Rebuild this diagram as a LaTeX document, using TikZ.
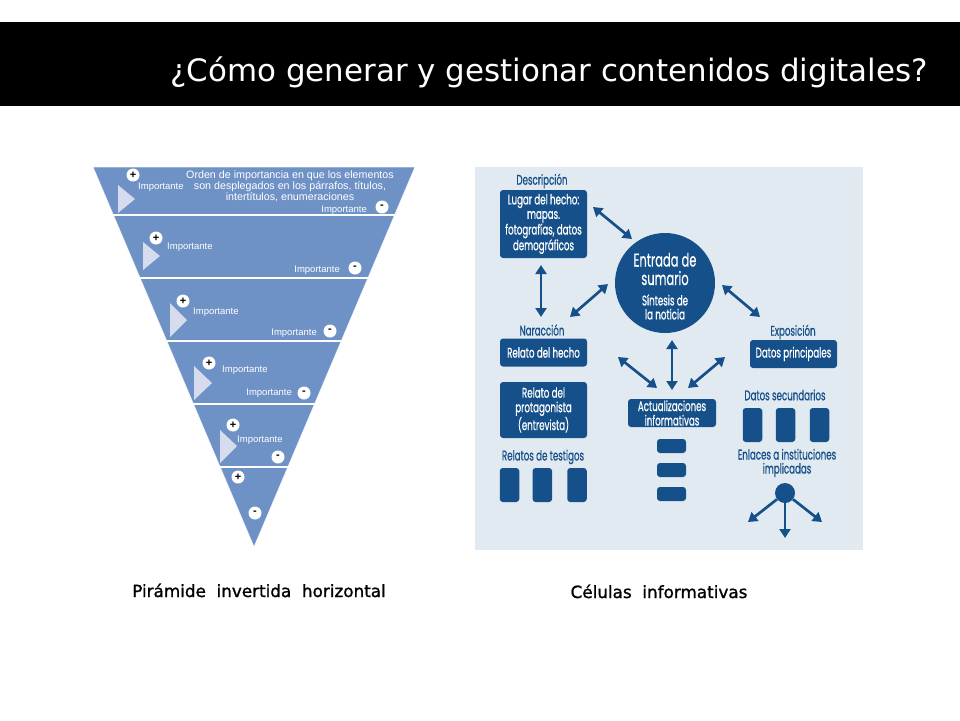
\documentclass[tikz,border=0pt]{standalone}
\usepackage{fontspec}
\setmainfont{Liberation Sans}
\newfontfamily\titlefont{DejaVu Sans}
\newfontfamily\capfont[FakeBold=1.2]{DejaVu Sans}
\newfontfamily\condfont[FakeStretch=0.62,FakeBold=0.6]{Poppins}
\usetikzlibrary{arrows.meta,calc}
\definecolor{pyr}{RGB}{111,146,198}
\definecolor{pyrlight}{RGB}{214,220,238}
\definecolor{dkblue}{RGB}{22,80,138}
\definecolor{panel}{RGB}{226,234,241}
\tikzset{
 pm/.style={circle, fill=white, inner sep=0pt, minimum size=13pt, font=\fontsize{11}{11}\selectfont\bfseries, text=black},
 imp/.style={text=white, font=\fontsize{9.5}{10}\selectfont, inner sep=0pt},
 cbox/.style={fill=dkblue, rounded corners=3pt, text=white, font=\condfont\fontsize{14}{14.5}\selectfont, align=center, inner sep=0pt},
 cbar/.style={fill=dkblue, rounded corners=3pt, inner sep=0pt},
 clab/.style={text=dkblue, font=\condfont\fontsize{14}{14}\selectfont, align=center, inner sep=0pt},
 dbl/.style={draw=dkblue, line width=2.7pt, {Triangle[length=9pt,width=11pt]}-{Triangle[length=9pt,width=11pt]}},
 sgl/.style={draw=dkblue, line width=2.7pt, -{Triangle[length=9pt,width=11pt]}},
 tri/.style={fill=pyrlight},
 sepline/.style={draw=white, line width=1.8pt},
 captext/.style={inner sep=0pt, anchor=base, font=\capfont\fontsize{16.8}{18}\selectfont},
}
\begin{document}
\begin{tikzpicture}[x=1pt,y=-1pt]
\useasboundingbox (0,0) rectangle (960,720);
\fill[white] (0,0) rectangle (960,720);
% title bar
\fill[black] (0,22) rectangle (960,106);
\node[anchor=base east, text=white, inner sep=0pt, font=\titlefont\fontsize{30.9}{36}\selectfont] (title) at (928,81) {¿Cómo generar y gestionar contenidos digitales?};

% ---------------- pyramid ----------------
\coordinate (TL) at (93,167);
\coordinate (TR) at (415,167);
\coordinate (AP) at (254,547);
\fill[pyr] (TL) -- (TR) -- (AP) -- cycle;
\draw[white, line width=0.8pt, opacity=0.8] (TL) -- (TR) -- (AP) -- cycle;
\foreach \t in {0.1263,0.2921,0.4579,0.6237,0.7895}{
  \draw[sepline] ($(TL)!\t!(AP)$) -- ($(TR)!\t!(AP)$);
}
% band triangles
\fill[tri] (118,185) -- (135,199) -- (118,213) -- cycle;
\fill[tri] (143,242) -- (160,256) -- (143,270) -- cycle;
\fill[tri] (170,303) -- (187,320) -- (170,337) -- cycle;
\fill[tri] (194,366) -- (212,383) -- (194,400) -- cycle;
\fill[tri] (220,430) -- (237,446) -- (220,463) -- cycle;
% band 1
\node[pm] (p1) at (133,175) {+};
\node[imp, anchor=west] (i1a) at (138,187) {Importante};
\node[imp, align=center, font=\fontsize{10.7}{11}\selectfont] (main) at (290,186) {Orden de importancia en que los elementos\\son desplegados en los párrafos, títulos,\\intertítulos, enumeraciones};
\node[imp, anchor=east] (i1b) at (367,210) {Importante};
\node[pm] (m1) at (382,207) {-};
% band 2
\node[pm] (p2) at (156,238) {+};
\node[imp, anchor=west] (i2a) at (167,247) {Importante};
\node[imp, anchor=east] (i2b) at (340,270) {Importante};
\node[pm] (m2) at (355,268) {-};
% band 3
\node[pm] (p3) at (183,301) {+};
\node[imp, anchor=west] (i3a) at (193,312) {Importante};
\node[imp, anchor=east] (i3b) at (317,333) {Importante};
\node[pm] (m3) at (330,331) {-};
% band 4
\node[pm] (p4) at (209,363) {+};
\node[imp, anchor=west] (i4a) at (222,370) {Importante};
\node[imp, anchor=east] (i4b) at (292,393) {Importante};
\node[pm] (m4) at (304,393) {-};
% band 5
\node[pm] (p5) at (233,425) {+};
\node[imp, anchor=west] (i5a) at (237,440) {Importante};
\node[pm] (m5) at (278,457) {-};
% band 6
\node[pm] (p6) at (238,477) {+};
\node[pm] (m6) at (255,513) {-};

% ---------------- cells ----------------
\fill[panel] (475,167) rectangle (863,550);
\node[clab] (ldesc) at (542,181) {Descripción};
\node[cbox, minimum width=87pt, minimum height=68pt] (lugar) at (543.5,224) {Lugar del hecho:\\mapas.\\fotografías, datos\\demográficos};
\node[clab] (lnar) at (542,330) {Naracción};
\node[cbox, minimum width=87pt, minimum height=28pt] (relh) at (543.5,352.5) {Relato del hecho};
\node[cbox, minimum width=87pt, minimum height=56pt] (prot) at (543.5,410) {Relato del\\protagonista\\(entrevista)};
\node[clab] (ltest) at (543,457) {Relatos de testigos};
\node[cbar, minimum width=19.5pt, minimum height=34pt] (t1) at (509.5,485) {};
\node[cbar, minimum width=19.5pt, minimum height=34pt] (t2) at (542.3,485) {};
\node[cbar, minimum width=19.5pt, minimum height=34pt] (t3) at (577,485) {};

\node[circle, fill=dkblue, minimum size=100pt, inner sep=0pt] (sum) at (665,283) {};
\node[text=white, align=center, inner sep=0pt, font=\condfont\fontsize{18.5}{18.5}\selectfont] (sumt1) at (665,269) {Entrada de\\sumario};
\node[text=white, align=center, inner sep=0pt, font=\condfont\fontsize{14}{14}\selectfont] (sumt2) at (665,307) {Síntesis de\\la noticia};

\node[cbox, minimum width=88pt, minimum height=28pt] (act) at (672,413) {Actualizaciones\\informativas};
\node[cbar, minimum width=29pt, minimum height=14pt] (b1) at (671.5,446) {};
\node[cbar, minimum width=29pt, minimum height=14pt] (b2) at (671.5,470) {};
\node[cbar, minimum width=29pt, minimum height=14pt] (b3) at (671.5,494) {};

\node[clab] (lexp) at (793,332) {Exposición};
\node[cbox, minimum width=87pt, minimum height=28pt] (dprin) at (793.5,354) {Datos principales};
\node[clab] (lsec) at (785,395) {Datos secundarios};
\node[cbar, minimum width=19.5pt, minimum height=34pt] (s1) at (752.5,425) {};
\node[cbar, minimum width=19.5pt, minimum height=34pt] (s2) at (785.5,425) {};
\node[cbar, minimum width=19.5pt, minimum height=34pt] (s3) at (819.5,425) {};
\node[clab] (lenl) at (787,463) {Enlaces a instituciones\\implicadas};
\node[circle, fill=dkblue, minimum size=20pt, inner sep=0pt] (dot) at (785,493) {};

% arrow end points
\coordinate (a1s) at (593,207);  \coordinate (a1e) at (632,239);
\coordinate (a2s) at (541,265);  \coordinate (a2e) at (541,317);
\coordinate (a3s) at (608,284);  \coordinate (a3e) at (570,317);
\coordinate (a4s) at (722,285);  \coordinate (a4e) at (760,317);
\coordinate (a5s) at (618,357);  \coordinate (a5e) at (657,388);
\coordinate (a6s) at (672,340);  \coordinate (a6e) at (672,390);
\coordinate (a7s) at (725,357);  \coordinate (a7e) at (688,388);
\coordinate (d1) at (748,522);
\coordinate (d2) at (785,538);
\coordinate (d3) at (822,522);
\draw[dbl] (a1s) -- (a1e);
\draw[dbl] (a2s) -- (a2e);
\draw[dbl] (a3s) -- (a3e);
\draw[dbl] (a4s) -- (a4e);
\draw[dbl] (a5s) -- (a5e);
\draw[dbl] (a6s) -- (a6e);
\draw[dbl] (a7s) -- (a7e);
\draw[sgl] (dot) -- (d1);
\draw[sgl] (dot) -- (d2);
\draw[sgl] (dot) -- (d3);

% captions
\node[captext] (cap1) at (259,597) {Pirámide\ \ invertida\ \ horizontal};
\node[captext] (cap2) at (659,598) {Células\ \ informativas};
\end{tikzpicture}
\end{document}
